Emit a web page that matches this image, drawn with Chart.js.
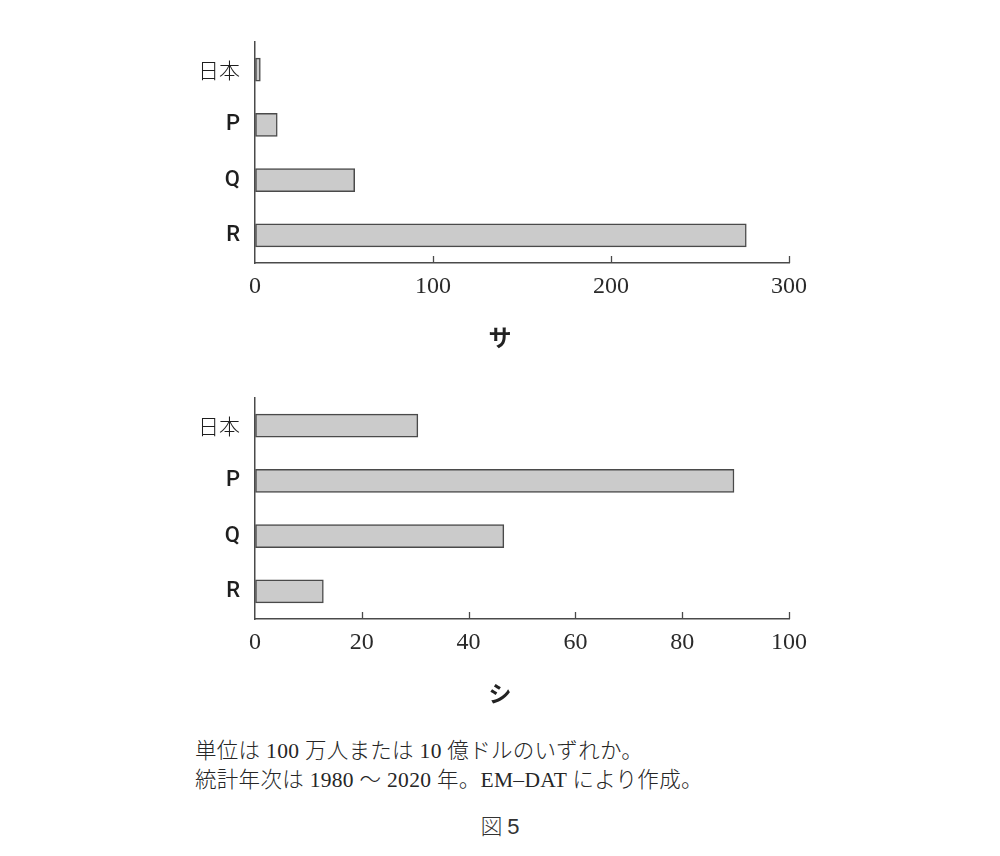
<!DOCTYPE html>
<html>
<head>
<meta charset="utf-8">
<script src="https://cdn.jsdelivr.net/npm/chart.js@4.4.1/dist/chart.umd.min.js"></script>
<style>
  html, body { margin: 0; padding: 0; background: #fff; }
  body { width: 1000px; height: 856px; position: relative; overflow: hidden; }
  .wrap { position: absolute; left: 150px; width: 700px; height: 320px; }
  .cap { position: absolute; left: 0; width: 1000px; text-align: center;
         font-family: "Noto Sans CJK JP", sans-serif; font-weight: 700; font-size: 23px; color: #222; }
  .note { position: absolute; left: 195px; font-family: "Liberation Serif", "Noto Sans CJK JP", serif;
          font-weight: 300; font-size: 21.5px; letter-spacing: 0.3px; color: #262626; white-space: pre; }
  .fig { position: absolute; left: 0; width: 1000px; text-align: center; font-size: 22px; color: #333;
         font-family: "Noto Sans CJK JP", sans-serif; font-weight: 300; }
  .fig b { font-family: "Liberation Sans", sans-serif; font-weight: 400; }
</style>
</head>
<body>
<div class="wrap" style="top:0px"><canvas id="c1"></canvas></div>
<div class="wrap" style="top:356px"><canvas id="c2"></canvas></div>
<div class="cap" style="top:319px">サ</div>
<div class="cap" style="top:675px">シ</div>
<div class="note" style="top:733px">単位は 100 万人または 10 億ドルのいずれか。</div>
<div class="note" style="top:762px">統計年次は 1980 ～ 2020 年。EM‒DAT により作成。</div>
<div class="fig" style="top:808px">図 <b>5</b></div>
<script>
const categories = ['日本', 'P', 'Q', 'R'];
const saValues = [3, 12.5, 56, 276];
const shiValues = [30.5, 89.7, 46.6, 12.8];
const saTicks = { max: 300, step: 100 };
const shiTicks = { max: 100, step: 20 };

const axisColor = '#4a4a4a';

const tickMarks = {
  id: 'tickMarks',
  afterDraw(chart) {
    const x = chart.scales.x;
    const ctx = chart.ctx;
    ctx.save();
    ctx.strokeStyle = axisColor;
    ctx.lineWidth = 1.3;
    x.ticks.forEach(t => {
      if (t.value === 0) return;
      const px = Math.round(x.getPixelForValue(t.value)) + 0.5;
      ctx.beginPath();
      ctx.moveTo(px, chart.chartArea.bottom);
      ctx.lineTo(px, chart.chartArea.bottom - 7);
      ctx.stroke();
    });
    ctx.restore();
  }
};

function makeChart(id, values, tk) {
  return new Chart(document.getElementById(id), {
    type: 'bar',
    data: {
      labels: categories,
      datasets: [{
        data: values,
        backgroundColor: '#cbcbcb',
        borderColor: axisColor,
        borderWidth: 1.5,
        borderSkipped: false,
        barThickness: 23
      }]
    },
    options: {
      indexAxis: 'y',
      responsive: true,
      maintainAspectRatio: false,
      animation: false,
      layout: { padding: { top: 42, right: 61, bottom: 0, left: 0 } },
      plugins: { legend: { display: false }, tooltip: { enabled: false } },
      scales: {
        x: {
          min: 0, max: tk.max,
          afterFit(s) { s.height = 57; },
          grid: { display: true, drawOnChartArea: false, drawTicks: false },
          border: { display: true, color: axisColor, width: 1.5 },
          ticks: {
            stepSize: tk.step, padding: 9, color: '#2a2a2a',
            font: { family: 'Liberation Serif', size: 24 }
          }
        },
        y: {
          afterFit(s) { s.width = 105; },
          grid: { display: false, drawTicks: false },
          border: { display: true, color: axisColor, width: 1.5 },
          ticks: {
            padding: 15, color: '#1e1e1e',
            font(ctx) {
              const lbl = categories[ctx.index];
              if (lbl === '日本') return { family: 'Noto Sans CJK JP', size: 21, weight: 300 };
              return { family: 'Roboto', size: 22, weight: 500 };
            }
          }
        }
      }
    },
    plugins: [tickMarks]
  });
}

makeChart('c1', saValues, saTicks);
makeChart('c2', shiValues, shiTicks);
</script>
</body>
</html>
